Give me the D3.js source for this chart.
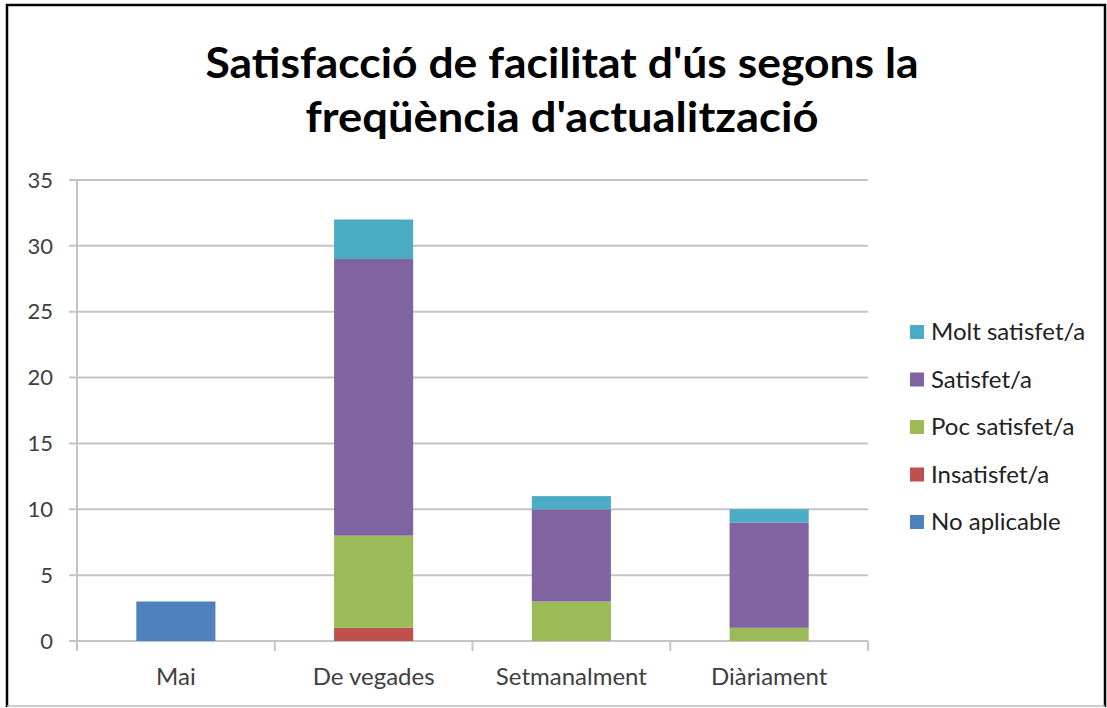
<!DOCTYPE html>
<html>
<head>
<meta charset="utf-8">
<script src="https://cdn.jsdelivr.net/npm/d3@7"></script>
<style>
  body { margin: 0; background: #fff; }
  text { font-family: "Lato", "Open Sans", sans-serif; }
</style>
</head>
<body>
<script>
// Data
var categories = ["Mai", "De vegades", "Setmanalment", "Diàriament"];
var seriesNames = ["No aplicable", "Insatisfet/a", "Poc satisfet/a", "Satisfet/a", "Molt satisfet/a"];
var seriesColors = ["#4f81bd", "#c0504d", "#9bbb59", "#8064a2", "#4bacc6"];
var noAplicable = [3, 0, 0, 0];
var insatisfet  = [0, 1, 0, 0];
var pocSatisfet = [0, 7, 3, 1];
var satisfet    = [0, 21, 7, 8];
var moltSatisfet = [0, 3, 1, 1];
var yTicks = [0, 5, 10, 15, 20, 25, 30, 35];
var titleLines = ["Satisfacció de facilitat d'ús segons la", "freqüència d'actualització"];

var W = 1107, H = 708;
var svg = d3.select("body").append("svg")
    .attr("width", W)
    .attr("height", H);

// Outer frame
svg.append("rect").attr("x", 0).attr("y", 0).attr("width", W).attr("height", H).attr("fill", "#fff");
svg.append("path")
    .attr("d", "M7,707 L7,5 L1105,5 L1105,707")
    .attr("fill", "none").attr("stroke", "#000").attr("stroke-width", 2.5);
svg.append("line").attr("x1", 7).attr("x2", 1105).attr("y1", 706).attr("y2", 706)
    .attr("stroke", "#bbb").attr("stroke-width", 1.5);

// Title (widths fitted to the reference)
var titleWidths = [713, 513];
svg.append("text")
    .attr("text-anchor", "middle")
    .attr("font-weight", "bold")
    .attr("font-size", 42)
    .attr("fill", "#000")
    .selectAll("tspan").data(titleLines).enter().append("tspan")
    .attr("x", 562)
    .attr("y", function(d, i) { return 78 + i * 54; })
    .attr("textLength", function(d, i) { return titleWidths[i]; })
    .attr("lengthAdjust", "spacingAndGlyphs")
    .text(function(d) { return d; });

var x = d3.scaleBand().domain(categories).range([77, 868]).paddingInner(0.6).paddingOuter(0.3);
var y = d3.scaleLinear().domain([0, 35]).range([641, 180]);

var rows = categories.map(function(c, i) {
    return {
        cat: c,
        "No aplicable": noAplicable[i],
        "Insatisfet/a": insatisfet[i],
        "Poc satisfet/a": pocSatisfet[i],
        "Satisfet/a": satisfet[i],
        "Molt satisfet/a": moltSatisfet[i]
    };
});
var stacked = d3.stack().keys(seriesNames)(rows);
var color = d3.scaleOrdinal().domain(seriesNames).range(seriesColors);

// Gridlines
svg.append("g").selectAll("line").data(yTicks).enter().append("line")
    .attr("x1", 69).attr("x2", 868)
    .attr("y1", function(d) { return y(d); })
    .attr("y2", function(d) { return y(d); })
    .attr("stroke", "#c4c4c4").attr("stroke-width", 2);

// Y axis line
svg.append("line").attr("x1", 77).attr("x2", 77).attr("y1", 180).attr("y2", 641)
    .attr("stroke", "#c4c4c4").attr("stroke-width", 2);

// Y tick labels
svg.append("g").selectAll("text").data(yTicks).enter().append("text")
    .attr("x", 53).attr("y", function(d) { return y(d); })
    .attr("dy", "0.35em")
    .attr("text-anchor", "end")
    .attr("font-size", 22)
    .attr("fill", "#404040")
    .text(function(d) { return d; });

// X category ticks
var step = x.step();
var bounds = categories.map(function(c) { return x(c) + x.bandwidth() / 2 - step / 2; });
bounds.push(868);
svg.append("g").selectAll("line").data(bounds).enter().append("line")
    .attr("x1", function(d) { return d; }).attr("x2", function(d) { return d; })
    .attr("y1", 641).attr("y2", 651)
    .attr("stroke", "#c4c4c4").attr("stroke-width", 2);

// Bars
svg.append("g").selectAll("g").data(stacked).enter().append("g")
    .attr("fill", function(d) { return color(d.key); })
    .selectAll("rect").data(function(d) { return d.filter(function(s) { return s[1] > s[0]; }); })
    .enter().append("rect")
    .attr("x", function(d) { return x(d.data.cat); })
    .attr("width", x.bandwidth())
    .attr("y", function(d) { return y(d[1]); })
    .attr("height", function(d) { return y(d[0]) - y(d[1]); });

// X labels
svg.append("g").selectAll("text").data(categories).enter().append("text")
    .attr("x", function(d) { return x(d) + x.bandwidth() / 2; })
    .attr("y", 685)
    .attr("text-anchor", "middle")
    .attr("font-size", 24)
    .attr("fill", "#404040")
    .text(function(d) { return d; });

// Legend (top entry is the top of the stack)
var legendOrder = seriesNames.slice().reverse();
var lg = svg.append("g").selectAll("g").data(legendOrder).enter().append("g")
    .attr("transform", function(d, i) { return "translate(910," + (332 + i * 47.5) + ")"; });
lg.append("rect").attr("x", 0).attr("y", -7).attr("width", 14).attr("height", 14)
    .attr("fill", function(d) { return color(d); });
lg.append("text").attr("x", 21).attr("dy", "0.35em")
    .attr("font-size", 24).attr("fill", "#222")
    .text(function(d) { return d; });
</script>
</body>
</html>
